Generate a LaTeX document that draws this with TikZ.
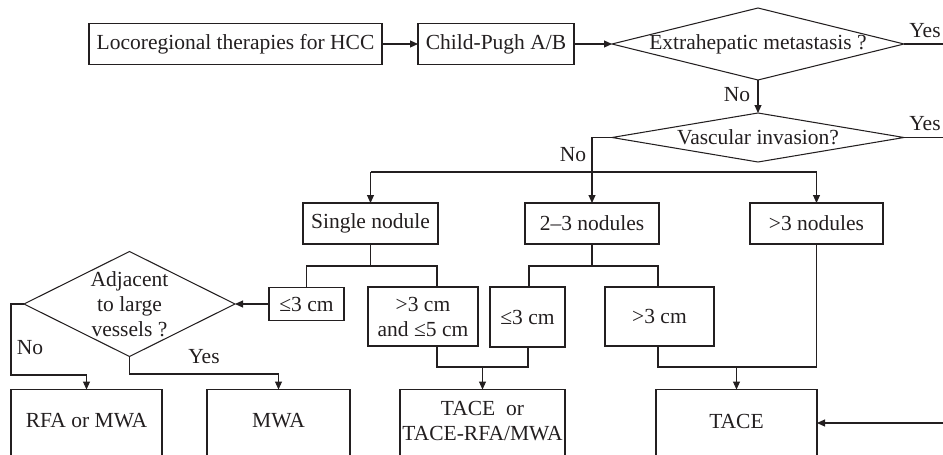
\documentclass[tikz,border=0pt]{standalone}
\usepackage{fontspec}
\setmainfont{Liberation Serif}
\usetikzlibrary{shapes.geometric,arrows.meta}
\definecolor{ink}{HTML}{231F20}
\begin{document}
\begin{tikzpicture}[x=1pt,y=-1pt,
  font=\fontsize{21.5}{25}\selectfont,
  every node/.style={text=ink},
  box/.style={draw=ink, line width=1.05pt, rectangle, inner sep=0pt, outer sep=0pt, align=center},
  dia/.style={draw=ink, line width=1.05pt, diamond, inner sep=0pt, outer sep=0pt},
  line/.style={draw=ink, line width=1.05pt},
  arr/.style={line, -{Triangle[length=8pt,width=7pt]}},
  lab/.style={inner sep=0pt}
]
\useasboundingbox (0,0) rectangle (943,455);
% top row
\node[box, minimum width=293pt, minimum height=41pt] (loc) at (235.5,44) {Locoregional therapies for HCC};
\node[box, minimum width=156pt, minimum height=41pt] (cp) at (496,44) {Child-Pugh A/B};
\node[dia, minimum width=292pt, minimum height=72pt, label={center:Extrahepatic metastasis ?}] (d1) at (758,44) {};
\node[dia, minimum width=292pt, minimum height=49pt, label={center:Vascular invasion?}] (d2) at (758,137.5) {};
% nodule boxes
\node[box, minimum width=135pt, minimum height=41pt] (single) at (370.5,223.5) {Single nodule};
\node[box, minimum width=134pt, minimum height=41pt] (two) at (592,223.5) {2–3 nodules};
\node[box, minimum width=133pt, minimum height=41pt] (many) at (816.5,223.5) {>3 nodules};
% size boxes
\node[box, minimum width=75pt, minimum height=33pt] (sA) at (306.5,304) {≤3 cm};
\node[box, minimum width=110pt, minimum height=59pt] (sB) at (423,316.5) {>3 cm\\and ≤5 cm};
\node[box, minimum width=75pt, minimum height=60pt] (mA) at (527.5,317) {≤3 cm};
\node[box, minimum width=109pt, minimum height=59pt] (mB) at (659.5,316.5) {>3 cm};
\node[dia, minimum width=211pt, minimum height=105pt, label={[align=center]center:{Adjacent\\to large\\vessels ?}}] (adj) at (129.5,304) {};
% outcome boxes
\node[box, minimum width=151pt, minimum height=81pt, label={[yshift=9pt]center:RFA or MWA}] (rfa) at (86.5,430) {};
\node[box, minimum width=143pt, minimum height=81pt, label={[yshift=9pt]center:MWA}] (mwa) at (278.5,430) {};
\node[box, minimum width=165pt, minimum height=81pt, label={[yshift=9pt,align=center]center:{TACE\ \ or\\TACE-RFA/MWA}}] (tr) at (482.5,430) {};
\node[box, minimum width=161pt, minimum height=81pt, label={[yshift=9pt]center:TACE}] (tace) at (736.5,430) {};
% connectors top
\draw[arr] (loc.east) -- (cp.west);
\draw[arr] (cp.east) -- (d1.west);
\coordinate (yes1) at (943,44);
\draw[line] (d1.east) -- (yes1);
\node[lab] (y1) at (925,31) {Yes};
\draw[arr] (d1.south) -- (d2.north);
\node[lab] (n1) at (737,95) {No};
\coordinate (yes2) at (943,137.5);
\draw[line] (d2.east) -- (yes2);
\node[lab] (y2) at (925,124) {Yes};
\draw[arr] (d2.west) -| (two.north);
\node[lab] (n2) at (573,155) {No};
\coordinate (hL) at (370.5,172);
\coordinate (hR) at (816.5,172);
\draw[line] (hL) -- (hR);
\draw[arr] (hL) -- (single.north);
\draw[arr] (hR) -- (many.north);
% single branches
\coordinate (s1) at (370.5,266);
\coordinate (sBt) at (437,287);
\draw[line] (single.south) -- (s1);
\draw[line] (sA.north) |- (sBt |- s1) -- (sBt);
% two branches
\coordinate (t1) at (592,266);
\coordinate (mAt) at (529,287);
\coordinate (mBt) at (658,287);
\draw[line] (two.south) -- (t1);
\draw[line] (mAt) |- (mBt |- t1) -- (mBt);
% bottom joins
\coordinate (sBb) at (437,346);
\coordinate (mAb) at (528,347);
\coordinate (jT) at (482.5,367);
\draw[line] (sBb) |- (mAb |- jT) -- (mAb);
\draw[arr] (jT) -- (tr.north);
\coordinate (mBb) at (658,346);
\coordinate (jU) at (736.5,367);
\draw[line] (mBb) |- (many.south |- jU) -- (many.south);
\draw[arr] (jU) -- (tace.north);
% adjacent diamond
\draw[arr] (sA.west) -- (adj.east);
\coordinate (jR) at (86.5,375);
\draw[arr] (adj.west) -- ++(-13,0) |- (jR) -- (rfa.north);
\node[lab] (n3) at (30,348) {No};
\coordinate (jM) at (278.5,374);
\draw[arr] (adj.south) |- (jM) -- (mwa.north);
\node[lab] (y3) at (204,357) {Yes};
\coordinate (rin) at (943,423);
\draw[arr] (rin) -- (tace.east |- rin);
\end{tikzpicture}
\end{document}
